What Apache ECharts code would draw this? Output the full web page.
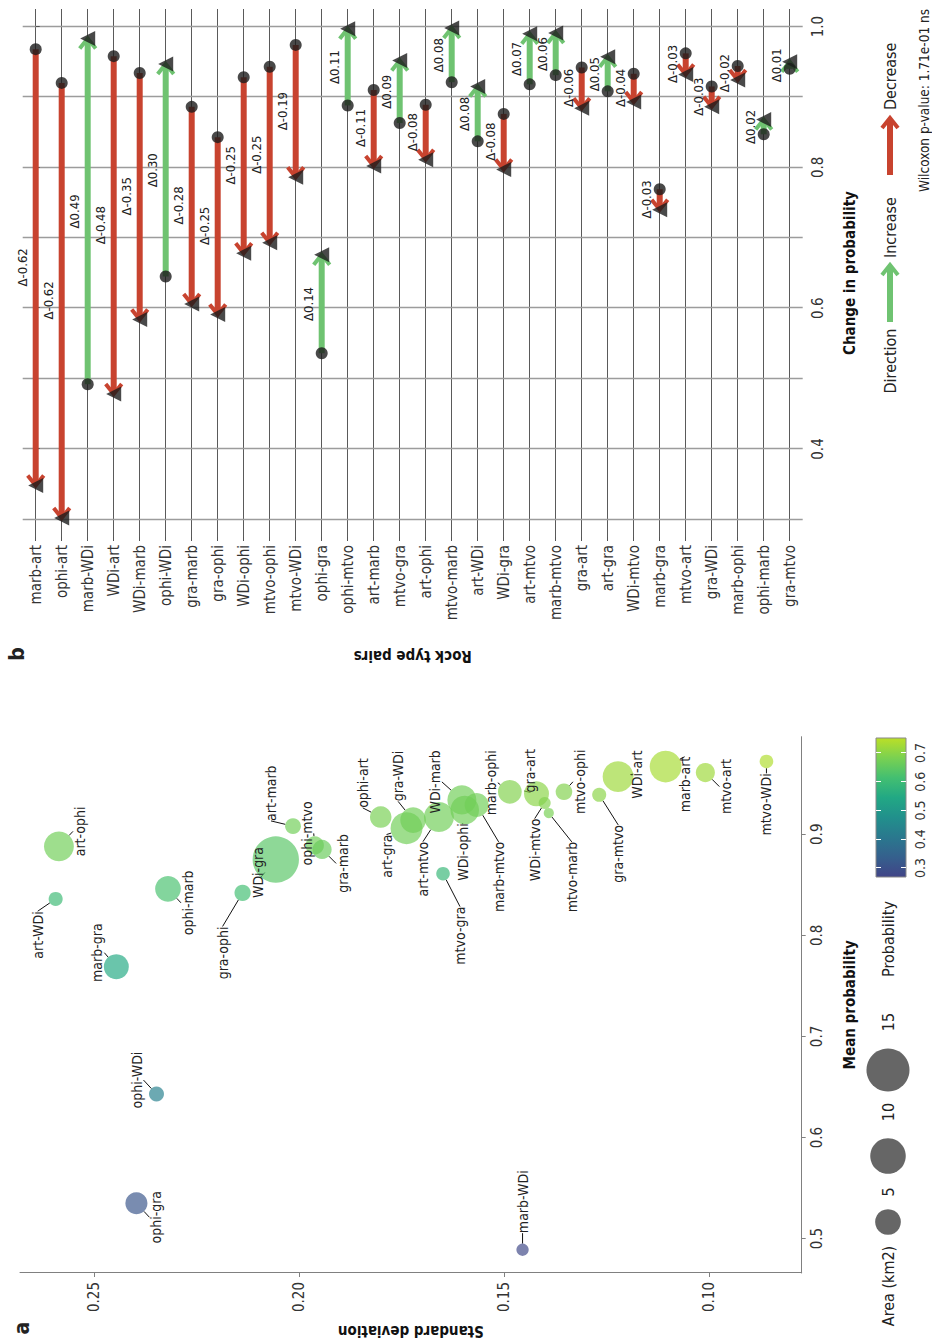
<!DOCTYPE html>
<html>
<head>
<meta charset="utf-8">
<script src="https://cdn.jsdelivr.net/npm/echarts@6/dist/echarts.min.js"></script>
<style>
  html, body { margin: 0; padding: 0; width: 932px; height: 1339px; overflow: hidden; background: #fff; }
  /* the figure is laid out landscape and turned a quarter turn counter-clockwise */
  #chart { position: absolute; left: 0; top: 0; width: 1339px; height: 932px;
           transform-origin: 0 0; transform: translate(0, 1339px) rotate(-90deg); }
</style>
</head>
<body>
<div id="chart"></div>
<script>
// ---------- panel a: mean probability vs. standard deviation per rock type pair ----------
const scatterPairs = ['art-ophi','art-WDi','marb-gra','ophi-marb','gra-ophi','WDi-gra','art-marb','ophi-mtvo','gra-marb','ophi-art',
  'gra-WDi','art-gra','art-mtvo','WDi-marb','WDi-ophi','marb-mtvo','marb-ophi','gra-art','WDi-mtvo','mtvo-marb',
  'mtvo-ophi','gra-mtvo','WDi-art','marb-art','mtvo-art','mtvo-WDi','mtvo-gra','ophi-WDi','ophi-gra','marb-WDi'];
const meanProb = [0.888,0.836,0.769,0.846,0.842,0.875,0.908,0.889,0.885,0.917,
  0.914,0.906,0.917,0.934,0.924,0.929,0.942,0.940,0.931,0.921,
  0.942,0.939,0.957,0.967,0.961,0.972,0.861,0.643,0.535,0.489];
const stdDev = [0.2586,0.2594,0.2446,0.2320,0.2138,0.2057,0.2015,0.1962,0.1944,0.1801,
  0.1722,0.1738,0.1659,0.1603,0.1596,0.1567,0.1486,0.1421,0.1401,0.1391,
  0.1354,0.1268,0.1222,0.1106,0.1009,0.0860,0.1649,0.2348,0.2397,0.1455];
const areaKm2 = [6.9,1.3,4.7,5.0,1.8,17.5,1.7,2.4,2.6,3.4,
  5.0,8.0,7.0,6.5,6.3,4.3,4.2,4.7,0.9,0.6,
  1.9,1.3,7.4,7.9,2.6,1.2,1.2,1.5,3.6,0.95];
const pairProb = [0.67,0.60,0.55,0.62,0.61,0.64,0.67,0.67,0.66,0.68,
  0.67,0.67,0.67,0.67,0.67,0.67,0.69,0.70,0.69,0.68,
  0.69,0.70,0.72,0.73,0.72,0.74,0.59,0.43,0.31,0.28];

// ---------- panel b: change in probability per rock type pair ----------
const rockPairs = ['marb-art','ophi-art','marb-WDi','WDi-art','WDi-marb','ophi-WDi','gra-marb','gra-ophi','WDi-ophi','mtvo-ophi',
  'mtvo-WDi','ophi-gra','ophi-mtvo','art-marb','mtvo-gra','art-ophi','mtvo-marb','art-WDi','WDi-gra','art-mtvo',
  'marb-mtvo','gra-art','art-gra','WDi-mtvo','marb-gra','mtvo-art','gra-WDi','marb-ophi','ophi-marb','gra-mtvo'];
const probStart = [0.968,0.920,0.492,0.958,0.934,0.645,0.886,0.843,0.928,0.943,
  0.974,0.536,0.888,0.910,0.863,0.889,0.921,0.837,0.876,0.918,
  0.931,0.942,0.908,0.933,0.769,0.962,0.915,0.944,0.847,0.940];
const probEnd = [0.348,0.302,0.983,0.478,0.584,0.947,0.606,0.591,0.678,0.693,
  0.786,0.676,0.997,0.802,0.952,0.811,0.998,0.915,0.797,0.990,
  0.991,0.884,0.957,0.893,0.740,0.932,0.886,0.924,0.868,0.950];
const wilcoxonText = 'Wilcoxon p-value: 1.71e-01 ns';

// ---------- tick labels ----------
const meanTicks = [0.5, 0.6, 0.7, 0.8, 0.9];
const sdTicks = [0.10, 0.15, 0.20, 0.25];
const changeTicks = [0.4, 0.6, 0.8, 1.0];
const changeGridTicks = [0.3, 0.4, 0.5, 0.6, 0.7, 0.8, 0.9, 1.0];
const probTicks = [0.3, 0.4, 0.5, 0.6, 0.7];
const areaLegend = [5, 10, 15];

// ---------- layout & style ----------
const FONT = "'Liberation Sans Narrow','DejaVu Sans Condensed',sans-serif";
const RED = '#c8432f';
const GREEN = '#6fc371';
const INK = '#222';
const VIRIDIS = ['#414487','#35608d','#2a788e','#21908c','#22a884','#43bf71','#7ad151','#bbdf27'];
const PROB_MIN = 0.269, PROB_MAX = 0.752;
const sizeOf = a => 2 + 10.6 * Math.sqrt(a);

// where each point label sits relative to its bubble (px)
const labelShift = {
  'art-ophi':[15,21],'art-WDi':[-36,-18],'marb-gra':[14,-19],'ophi-marb':[-14,20],'gra-ophi':[-60,-20],
  'WDi-gra':[-13,-18],'art-marb':[33,-22],'ophi-mtvo':[12,-8],'gra-marb':[-14,21],'ophi-art':[34,-18],
  'gra-WDi':[44,-15],'art-gra':[-28,-20],'art-mtvo':[-52,-16],'WDi-marb':[18,-27],'WDi-ophi':[-42,-2],
  'marb-mtvo':[-72,22],'marb-ophi':[9,-19],'gra-art':[23,-6],'WDi-mtvo':[-47,-10],'mtvo-marb':[-64,23],
  'mtvo-ophi':[10,16],'gra-mtvo':[-59,19],'WDi-art':[2,19],'marb-art':[-18,19],'mtvo-art':[-14,21],
  'mtvo-WDi':[-43,0],'mtvo-gra':[-62,17],'ophi-WDi':[14,-20],'ophi-gra':[-14,20],'marb-WDi':[48,0]
};

const gridA = { left: 65.7, top: 20, width: 536.6, height: 781.7 };
const gridB = { left: 802, top: 22.7, width: 528, height: 780 };
const gridBar = { left: 462, top: 876, width: 139, height: 30 };

const scatterData = scatterPairs.map((n, i) => ({ name: n, value: [meanProb[i], stdDev[i], areaKm2[i], pairProb[i]] }));
const arrowData = rockPairs.map((n, i) => [i, probStart[i], probEnd[i]]);

function arrowShape(x0, x1, y, color) {
  const dir = x1 >= x0 ? 1 : -1;
  return [
    { type: 'line', shape: { x1: x0, y1: y, x2: x1 - dir * 3, y2: y }, style: { stroke: color, lineWidth: 6 } },
    { type: 'polyline', shape: { points: [[x1 - dir * 10, y - 8], [x1, y], [x1 - dir * 10, y + 8]] },
      style: { stroke: color, lineWidth: 4, fill: null, lineJoin: 'miter' } }
  ];
}

function renderArrow(params, api) {
  const i = api.value(0), s = api.value(1), e = api.value(2);
  const p0 = api.coord([s, i]), p1 = api.coord([e, i]);
  const color = e >= s ? GREEN : RED;
  const d = Math.round((e - s) * 100) / 100;
  return {
    type: 'group',
    children: arrowShape(p0[0], p1[0], p0[1], color).concat([{
      type: 'text', x: (p0[0] + p1[0]) / 2, y: p0[1] - 13,
      style: { text: '\u0394' + d.toFixed(2), fill: INK, fontSize: 13, fontFamily: FONT, align: 'center', verticalAlign: 'middle' }
    }])
  };
}

const axisText = { color: '#333', fontSize: 15, fontFamily: FONT };
const nameText = { color: '#111', fontSize: 15, fontWeight: 'bold', fontFamily: FONT };

// legend pieces (drawn in the landscape frame)
const legendGraphics = [];
function txt(x, y, s, opt) {
  legendGraphics.push({ type: 'text', x: x, y: y,
    style: Object.assign({ text: s, fill: INK, fontSize: 16, fontFamily: FONT, align: 'center', verticalAlign: 'middle' }, opt || {}) });
}
txt(11, 22, 'a', { fontSize: 21, fontWeight: 'bold' });
txt(685, 17, 'b', { fontSize: 21, fontWeight: 'bold' });
// size legend
txt(53, 888, 'Area (km2)');
const areaX = [117, 183, 269], areaLabX = [147, 227, 317];
areaLegend.forEach((a, k) => {
  legendGraphics.push({ type: 'circle', shape: { cx: areaX[k], cy: 888, r: sizeOf(a) / 2 }, style: { fill: '#666' } });
  txt(areaLabX[k], 888, String(a));
});
// colour legend
txt(400, 888, 'Probability');
legendGraphics.push({ type: 'rect', shape: { x: gridBar.left, y: gridBar.top, width: gridBar.width, height: gridBar.height },
  style: { stroke: '#888', lineWidth: 1,
    fill: { type: 'linear', x: 0, y: 0, x2: 1, y2: 0, colorStops: VIRIDIS.map((c, k) => ({ offset: k / (VIRIDIS.length - 1), color: c })) } } });
// direction legend
txt(978, 890, 'Direction');
legendGraphics.push({ type: 'group', children: arrowShape(1017, 1074, 890, GREEN) });
txt(1081, 890, 'Increase', { align: 'left' });
legendGraphics.push({ type: 'group', children: arrowShape(1164, 1221, 890, RED) });
txt(1229, 890, 'Decrease', { align: 'left' });
txt(1330, 924, wilcoxonText, { align: 'right', fontSize: 13.5 });

const chart = echarts.init(document.getElementById('chart'), null, { renderer: 'svg' });
chart.setOption({
  animation: false,
  backgroundColor: '#fff',
  textStyle: { fontFamily: FONT },
  grid: [
    Object.assign({}, gridA),
    Object.assign({}, gridB),
    Object.assign({}, gridBar)
  ],
  xAxis: [
    { gridIndex: 0, type: 'value', min: 0.466, max: 0.9965,
      name: 'Mean probability', nameLocation: 'middle', nameGap: 41, nameTextStyle: nameText,
      axisLine: { lineStyle: { color: '#808080' } },
      axisTick: { length: 4, customValues: meanTicks, lineStyle: { color: '#808080' } },
      axisLabel: Object.assign({ customValues: meanTicks, margin: 8, formatter: v => v.toFixed(1) }, axisText),
      splitLine: { show: false } },
    { gridIndex: 1, type: 'value', min: 0.275, max: 1.025,
      name: 'Change in probability', nameLocation: 'middle', nameGap: 40, nameTextStyle: nameText,
      axisLine: { show: false },
      axisTick: { length: 4, customValues: changeTicks, lineStyle: { color: '#555' } },
      axisLabel: Object.assign({ customValues: changeTicks, margin: 8, formatter: v => v.toFixed(1) }, axisText),
      splitLine: { show: false } },
    { gridIndex: 1, type: 'value', min: 0.275, max: 1.025, position: 'top',
      axisLine: { show: false }, axisLabel: { show: false },
      axisTick: { show: false, customValues: changeGridTicks },
      splitLine: { show: true, lineStyle: { color: '#9c9c9c', width: 1.4 } } },
    { gridIndex: 2, type: 'value', min: PROB_MIN, max: PROB_MAX, position: 'bottom', z: 20,
      axisLine: { show: false },
      axisTick: { inside: true, length: 5, customValues: probTicks, lineStyle: { color: '#fff', width: 1 } },
      axisLabel: Object.assign({ customValues: probTicks, margin: 7, formatter: v => v.toFixed(1) }, axisText, { fontSize: 14 }),
      splitLine: { show: false } },
    { gridIndex: 2, type: 'value', min: PROB_MIN, max: PROB_MAX, position: 'top', z: 20,
      axisLine: { show: false }, axisLabel: { show: false },
      axisTick: { inside: true, length: 5, customValues: probTicks, lineStyle: { color: '#fff', width: 1 } },
      splitLine: { show: false } }
  ],
  yAxis: [
    { gridIndex: 0, type: 'value', min: 0.0774, max: 0.2681,
      name: 'Standard deviation', nameLocation: 'middle', nameGap: 50, nameTextStyle: nameText,
      axisLine: { show: true, lineStyle: { color: '#808080' } },
      axisTick: { show: true, length: 4, customValues: sdTicks, lineStyle: { color: '#808080' } },
      axisLabel: Object.assign({ customValues: sdTicks, margin: 9, formatter: v => v.toFixed(2) }, axisText),
      splitLine: { show: false } },
    { gridIndex: 1, type: 'value', min: -0.5, max: rockPairs.length - 0.5, inverse: true,
      name: 'Rock type pairs', nameLocation: 'middle', nameGap: 111, nameTextStyle: nameText,
      axisLine: { show: false },
      axisTick: { show: true, length: 4, customValues: rockPairs.map((_, i) => i), lineStyle: { color: '#555' } },
      axisLabel: Object.assign({ customValues: rockPairs.map((_, i) => i), margin: 8,
        formatter: v => rockPairs[Math.round(v)] }, axisText),
      splitLine: { show: true, lineStyle: { color: '#5a5a5a', width: 1 } } },
    { gridIndex: 2, type: 'value', min: 0, max: 1, show: false }
  ],
  visualMap: {
    show: false, type: 'continuous', seriesIndex: 0, dimension: 3,
    min: PROB_MIN, max: PROB_MAX, inRange: { color: VIRIDIS }
  },
  graphic: { elements: legendGraphics },
  series: [
    { type: 'scatter', xAxisIndex: 0, yAxisIndex: 0, data: scatterData,
      symbolSize: v => sizeOf(v[2]),
      itemStyle: { opacity: 0.68 },
      label: { show: true, position: 'inside', formatter: '{b}', color: INK, opacity: 1, fontSize: 14, fontFamily: FONT },
      labelLine: { show: true, lineStyle: { color: '#111', width: 1, opacity: 1 } },
      labelLayout: p => { const s = labelShift[scatterPairs[p.dataIndex]]; return { dx: s[0], dy: s[1], hideOverlap: false }; },
      emphasis: { disabled: true } },
    { type: 'custom', xAxisIndex: 1, yAxisIndex: 1, data: arrowData, renderItem: renderArrow, z: 3,
      encode: { x: [1, 2], y: 0 } },
    { type: 'scatter', xAxisIndex: 1, yAxisIndex: 1, z: 4,
      data: probStart.map((v, i) => [v, i]), symbol: 'circle', symbolSize: 12,
      itemStyle: { color: '#1b1b1b' }, emphasis: { disabled: true } },
    { type: 'scatter', xAxisIndex: 1, yAxisIndex: 1, z: 5,
      data: probEnd.map((v, i) => [v, i]), symbol: 'triangle', symbolSize: 15,
      itemStyle: { color: '#1b1b1b' }, emphasis: { disabled: true } }
  ]
});
</script>
</body>
</html>
